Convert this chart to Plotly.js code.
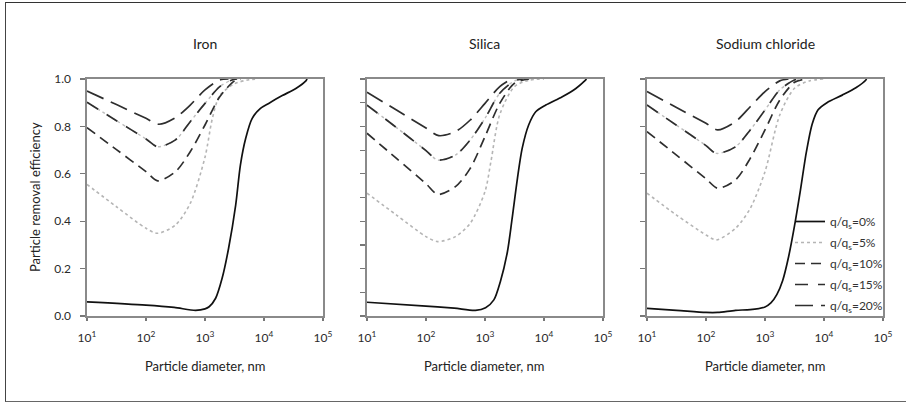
<!DOCTYPE html>
<html>
<head>
<meta charset="utf-8">
<script src="https://cdn.plot.ly/plotly-3.0.1.min.js"></script>
<style>
  html, body { margin:0; padding:0; background:#fff; }
  #wrap { position:relative; width:906px; height:403px; }
  #chart { position:absolute; left:0; top:0; width:906px; height:403px; }
  #frame { position:absolute; left:5px; top:2px; width:920px; height:398px;
           border-left:1.5px solid #444; border-top:1.5px solid #333; border-bottom:1.5px solid #666;
           pointer-events:none; }
</style>
</head>
<body>
<div id="wrap"><div id="chart"></div><div id="frame"></div></div>
<script>
// ---------------- data (particle diameter in nm, removal efficiency 0..1) ----------------
const panelTitles = ["Iron", "Silica", "Sodium chloride"];
const seriesNames = ["q/q<sub>s</sub>=0%", "q/q<sub>s</sub>=5%", "q/q<sub>s</sub>=10%", "q/q<sub>s</sub>=15%", "q/q<sub>s</sub>=20%"];
const xTickVals = [10, 100, 1000, 10000, 100000];
const xTickText = ["10<sup>1</sup>", "10<sup>2</sup>", "10<sup>3</sup>", "10<sup>4</sup>", "10<sup>5</sup>"];

// Iron
const ironX0  = [10, 100, 300, 692, 1000, 1175, 1514, 1950, 2512, 3311, 3981, 4898, 6310, 8710, 12023, 20417, 34674, 51286, 53700];
const ironY0  = [0.060, 0.046, 0.036, 0.024, 0.030, 0.039, 0.075, 0.159, 0.286, 0.468, 0.637, 0.750, 0.834, 0.876, 0.897, 0.930, 0.960, 0.992, 1.0];
const ironX5  = [10, 31.6, 100, 158, 316, 562, 1000, 1334, 1778, 3162, 5623, 8000];
const ironY5  = [0.555, 0.461, 0.370, 0.349, 0.384, 0.475, 0.670, 0.834, 0.930, 0.980, 0.997, 1.0];
const ironX10 = [10, 31.6, 100, 158, 316, 562, 1000, 1778, 3162, 4000];
const ironY10 = [0.795, 0.702, 0.609, 0.570, 0.609, 0.693, 0.806, 0.925, 0.992, 1.0];
const ironX15 = [10, 31.6, 100, 158, 316, 562, 1000, 1778, 2800, 3500];
const ironY15 = [0.902, 0.824, 0.747, 0.714, 0.743, 0.820, 0.897, 0.968, 0.995, 1.0];
const ironX20 = [10, 31.6, 100, 164, 316, 562, 1000, 1778, 2500];
const ironY20 = [0.949, 0.892, 0.834, 0.809, 0.837, 0.890, 0.954, 0.996, 1.0];

// Silica
const silX0  = [10, 100, 300, 690, 1023, 1413, 1820, 2399, 2884, 3548, 4266, 5495, 7244, 10715, 20417, 34674, 48978, 52481];
const silY0  = [0.058, 0.042, 0.033, 0.024, 0.035, 0.068, 0.145, 0.271, 0.412, 0.581, 0.707, 0.806, 0.862, 0.890, 0.925, 0.960, 0.992, 1.0];
const silX5  = [10, 31.6, 100, 158, 316, 562, 1000, 1259, 1778, 3162, 5623, 10000];
const silY5  = [0.518, 0.426, 0.335, 0.314, 0.335, 0.391, 0.525, 0.651, 0.850, 0.968, 0.995, 1.0];
const silX10 = [10, 31.6, 100, 158, 316, 562, 1000, 1778, 3162, 5600];
const silY10 = [0.771, 0.665, 0.558, 0.513, 0.546, 0.623, 0.757, 0.897, 0.982, 1.0];
const silX15 = [10, 31.6, 100, 158, 316, 562, 1000, 1778, 3162, 4500];
const silY15 = [0.890, 0.795, 0.698, 0.658, 0.679, 0.743, 0.834, 0.940, 0.992, 1.0];
const silX20 = [10, 31.6, 100, 164, 316, 562, 1000, 1778, 2800];
const silY20 = [0.944, 0.869, 0.793, 0.761, 0.778, 0.827, 0.897, 0.968, 1.0];

// Sodium chloride
const naclX0  = [10, 31.6, 100, 158, 316, 562, 1000, 1259, 1585, 1995, 2512, 3162, 3981, 5012, 6310, 7943, 11220, 20417, 34674, 51286, 52481];
const naclY0  = [0.032, 0.024, 0.015, 0.015, 0.024, 0.027, 0.038, 0.055, 0.090, 0.150, 0.250, 0.380, 0.530, 0.690, 0.810, 0.870, 0.900, 0.932, 0.963, 0.996, 1.0];
const naclX5  = [10, 31.6, 100, 150, 316, 562, 1000, 1778, 3162, 5623, 10000];
const naclY5  = [0.518, 0.426, 0.342, 0.321, 0.370, 0.454, 0.609, 0.848, 0.961, 0.992, 1.0];
const naclX10 = [10, 31.6, 100, 158, 316, 562, 1000, 1778, 3162, 5000];
const naclY10 = [0.778, 0.679, 0.579, 0.539, 0.574, 0.665, 0.785, 0.911, 0.986, 1.0];
const naclX15 = [10, 31.6, 100, 150, 316, 562, 1000, 1778, 3162, 4000];
const naclY15 = [0.890, 0.805, 0.719, 0.686, 0.714, 0.785, 0.869, 0.954, 0.996, 1.0];
const naclX20 = [10, 31.6, 100, 158, 316, 562, 1000, 1778, 2500];
const naclY20 = [0.947, 0.880, 0.813, 0.785, 0.820, 0.883, 0.947, 0.992, 1.0];

// ---------------- styling ----------------
const panels = [
  {xs:[ironX0, ironX5, ironX10, ironX15, ironX20], ys:[ironY0, ironY5, ironY10, ironY15, ironY20]},
  {xs:[silX0, silX5, silX10, silX15, silX20],      ys:[silY0, silY5, silY10, silY15, silY20]},
  {xs:[naclX0, naclX5, naclX10, naclX15, naclX20], ys:[naclY0, naclY5, naclY10, naclY15, naclY20]}
];
const styles = [
  {color:'#111111', dash:'solid',          width:1.7},
  {color:'#b5b5b5', dash:'dot',            width:1.6},
  {color:'#2e2e2e', dash:'10px,6px',       width:1.7},
  {color:'#2e2e2e', dash:'13px,10px',      width:1.7},
  {color:'#2e2e2e', dash:'18px,8px',       width:1.7}
];

const traces = [];
panels.forEach((p, pi) => {
  const ax = pi === 0 ? '' : String(pi + 1);
  for (let s = 0; s < 5; s++) {
    if (s === 3) {
      traces.push({
        x: p.xs[s], y: p.ys[s], type:'scatter', mode:'lines',
        xaxis:'x' + ax, yaxis:'y' + ax, legendgroup:'g' + s, showlegend:false, hoverinfo:'skip',
        line:{color:'#bdbdbd', dash:'dot', width:1.4, shape:'spline', smoothing:0.8}
      });
    }
    traces.push({
      x: p.xs[s], y: p.ys[s], type:'scatter', mode:'lines', name: seriesNames[s],
      xaxis:'x' + ax, yaxis:'y' + ax, legendgroup:'g' + s, showlegend: pi === 2,
      line:{color:styles[s].color, dash:styles[s].dash, width:styles[s].width, shape:'spline', smoothing:0.8}
    });
  }
});

const W = 906, H = 403;
const xDom = [[87, 323], [367, 603], [647, 883]];
const yTop = 79, yBot = 316;
const yDomain = [1 - yBot / H, 1 - yTop / H];

function xAxis(i) {
  return {
    domain:[xDom[i][0] / W, xDom[i][1] / W], anchor: i === 0 ? 'y' : 'y' + (i + 1),
    type:'log', range:[1, 5], tickvals:xTickVals, ticktext:xTickText,
    ticks:'outside', ticklen:3, tickwidth:1.2, tickcolor:'#777',
    showline:true, linecolor:'#8a8a8a', linewidth:1.6, mirror:true,
    showgrid:false, zeroline:false, ticklabelstandoff:7,
    tickfont:{size:12, color:'#2a2a2a'}
  };
}
function yAxis(i, dtick, labels) {
  return {
    domain:yDomain, anchor: i === 0 ? 'x' : 'x' + (i + 1),
    range:[0, 1], dtick:dtick, tick0:0, tickformat:'.1f', showticklabels:labels,
    ticks:'outside', ticklen:5, tickwidth:1.2, tickcolor:'#777',
    showline:true, linecolor:'#8a8a8a', linewidth:1.6, mirror:true,
    showgrid:false, zeroline:false, ticklabelstandoff:7,
    tickfont:{size:12, color:'#2a2a2a'}
  };
}

const annotations = [];
panelTitles.forEach((t, i) => {
  const cx = (xDom[i][0] + xDom[i][1]) / 2 / W;
  annotations.push({text:t, xref:'paper', yref:'paper', x:cx, y:1 - 43 / H, xanchor:'center', yanchor:'middle',
    showarrow:false, font:{size:14, color:'#222'}});
  annotations.push({text:'Particle diameter, nm', xref:'paper', yref:'paper', x:cx, y:1 - 366 / H, xanchor:'center', yanchor:'middle',
    showarrow:false, font:{size:13, color:'#222'}});
});
annotations.push({text:'Particle removal efficiency', xref:'paper', yref:'paper', x:35 / W, y:1 - 197 / H,
  xanchor:'center', yanchor:'middle', textangle:-90, showarrow:false, font:{size:13, color:'#222'}});

const layout = {
  width:W, height:H, margin:{l:0, r:0, t:0, b:0},
  paper_bgcolor:'#ffffff', plot_bgcolor:'#ffffff',
  font:{family:'Lato, "Open Sans", sans-serif', size:11, color:'#222'},
  xaxis:xAxis(0), xaxis2:xAxis(1), xaxis3:xAxis(2),
  yaxis:yAxis(0, 0.2, true), yaxis2:yAxis(1, 0.1, false), yaxis3:yAxis(2, 0.2, false),
  showlegend:true,
  legend:{x:790 / W, y:1 - 207 / H, xanchor:'left', yanchor:'top', bgcolor:'rgba(0,0,0,0)',
          borderwidth:0, font:{size:12, color:'#333'}, tracegroupgap:2, itemwidth:30, traceorder:'grouped'},
  annotations:annotations
};

Plotly.newPlot('chart', traces, layout, {staticPlot:true, displayModeBar:false});
</script>
</body>
</html>
